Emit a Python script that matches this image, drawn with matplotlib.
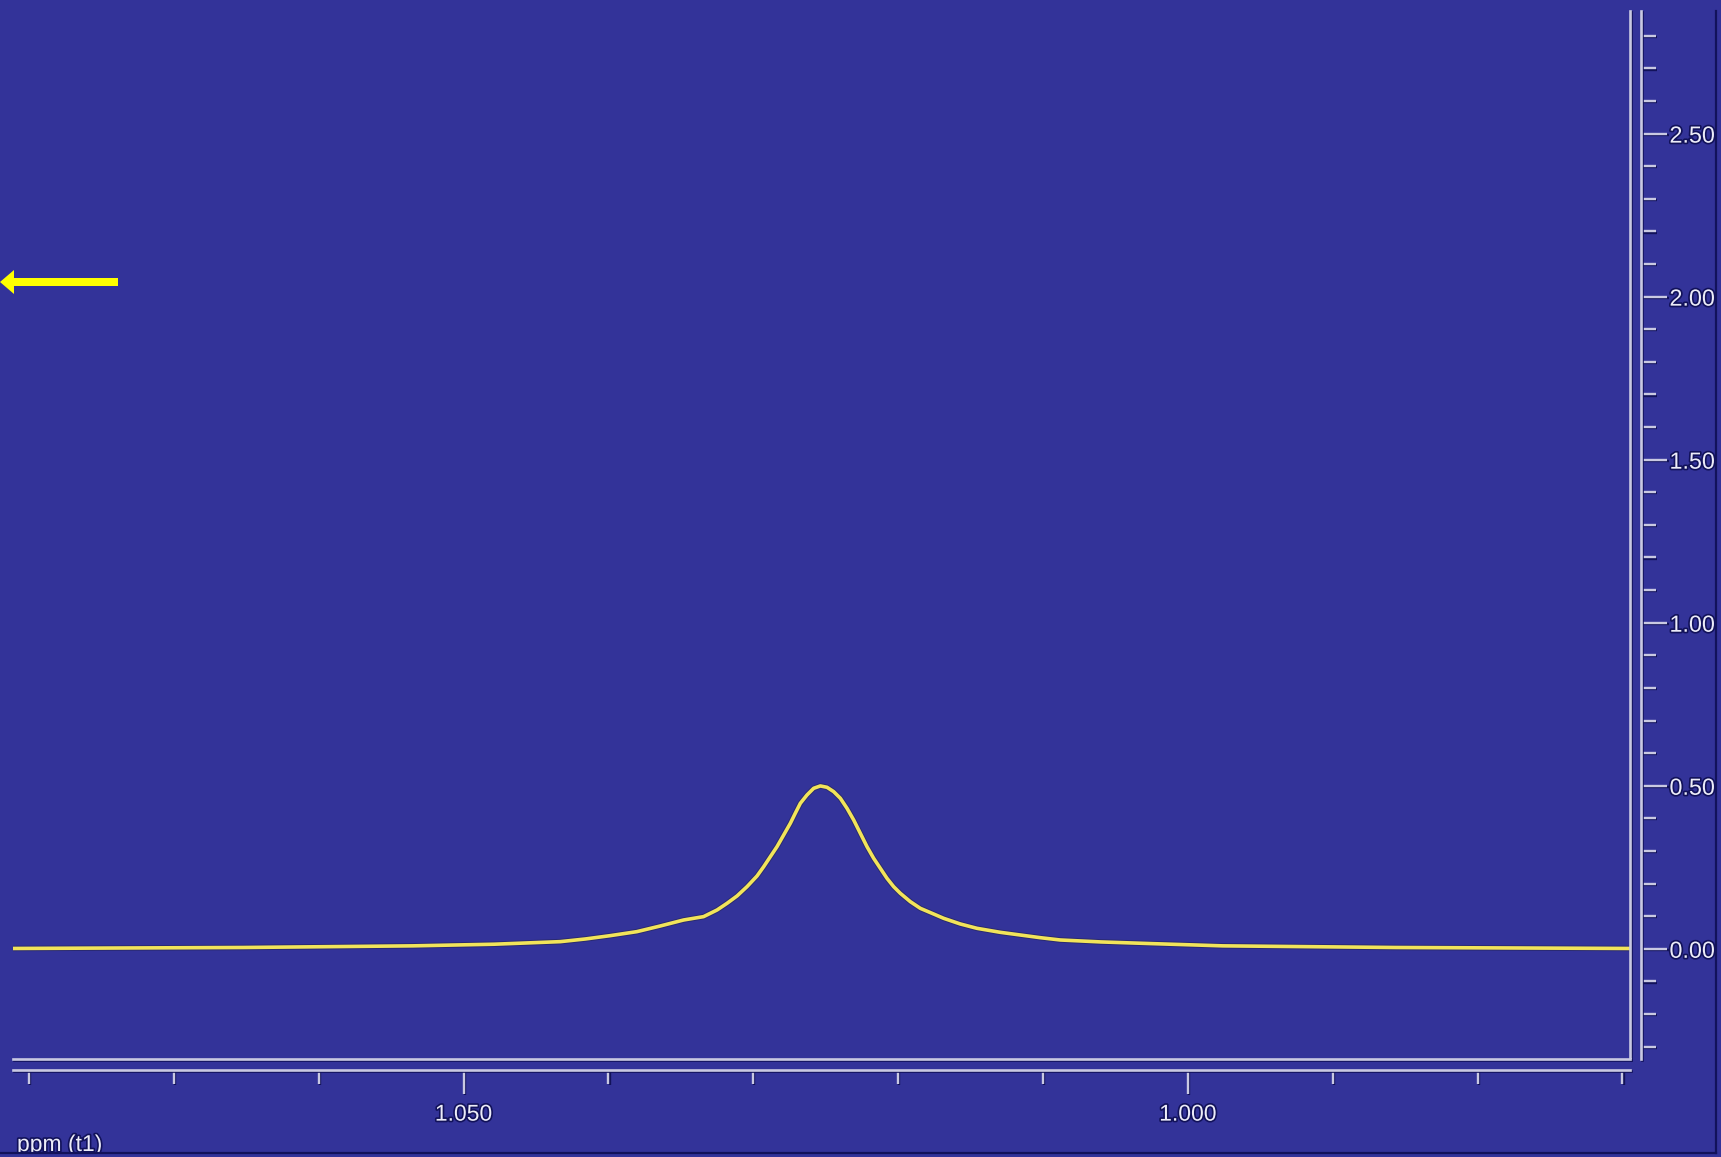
import matplotlib
matplotlib.use("Agg")
import matplotlib.pyplot as plt
import matplotlib.patheffects as pe
from matplotlib.ticker import FixedLocator, MultipleLocator
from matplotlib.lines import Line2D
from matplotlib.patches import Polygon
from matplotlib.transforms import Bbox

plt.rcParams['font.family'] = ['Liberation Sans', 'DejaVu Sans']

# ---- data ----
ppm = [1.0811, 1.0652, 1.0535, 1.0479, 1.04332, 1.04159, 1.03987, 1.03803,
       1.03642, 1.03481, 1.03343, 1.03250, 1.03181, 1.03112, 1.03043, 1.02974,
       1.02928, 1.02882, 1.02836, 1.02790, 1.02744, 1.02710, 1.02675, 1.02629,
       1.02583, 1.02537, 1.02491, 1.02445, 1.02399, 1.02353, 1.02307, 1.02261,
       1.02215, 1.02169, 1.02123, 1.02077, 1.02031, 1.01985, 1.01916, 1.01847,
       1.01755, 1.01686, 1.01571, 1.01456, 1.01295, 1.01157, 1.01019, 1.00881,
       1.0060, 1.0026, 0.9976, 0.9857, 0.9695]
intensity = [0.001, 0.004, 0.009, 0.014, 0.0219, 0.0301, 0.0403, 0.0526,
             0.0699, 0.0883, 0.0986, 0.119, 0.1395, 0.162, 0.1906, 0.2233,
             0.2519, 0.2826, 0.3133, 0.3491, 0.3849, 0.4156, 0.4462, 0.4718,
             0.4922, 0.4994, 0.4953, 0.482, 0.4616, 0.4309, 0.3951, 0.3542,
             0.3133, 0.2775, 0.2468, 0.2162, 0.1906, 0.1702, 0.1446, 0.1241,
             0.1067, 0.0935, 0.0761, 0.0628, 0.0505, 0.0423, 0.0341, 0.027,
             0.021, 0.016, 0.009, 0.004, 0.001]
x_major = [1.050, 1.000]
x_labels = ["1.050", "1.000"]
y_major = [0.0, 0.5, 1.0, 1.5, 2.0, 2.5]
y_labels = ["0.00", "0.50", "1.00", "1.50", "2.00", "2.50"]
x_label = "ppm (t1)"
xlim = (1.0811, 0.96948)
ylim = (-0.338, 2.876)

# ---- style ----
BG = "#333399"
LINE = "#c9c9e2"
SHADOW = "#12125a"
TXT = "#ececf8"
YEL = "#f2e45a"
ARROW = "#ffff00"

W, H = 1721, 1157
fig = plt.figure(figsize=(W / 100, H / 100), dpi=100, facecolor=BG)

def fx(px):
    return px / W

def fy(py):
    return 1 - py / H

line_fx = [pe.SimpleLineShadow(offset=(0.8, -0.8), shadow_color=SHADOW, alpha=1.0), pe.Normal()]
text_fx = [pe.withStroke(linewidth=2.4, foreground=SHADOW)]

# main plotting area
L, R, T, B = 13, 1630, 11, 1059
ax = fig.add_axes([fx(L), fy(B), (R - L) / W, (B - T) / H])
ax.set_facecolor(BG)
ax.set_xlim(*xlim)
ax.set_ylim(*ylim)
ax.plot(ppm, intensity, color=YEL, lw=2.6, solid_joinstyle='round',
        solid_capstyle='round',
        path_effects=[pe.Stroke(linewidth=4.0, foreground="#2a2a70"), pe.Normal()])
for s in ["left", "top"]:
    ax.spines[s].set_visible(False)
for s in ["right", "bottom"]:
    ax.spines[s].set_color(LINE)
    ax.spines[s].set_linewidth(1.9)
    ax.spines[s].set_path_effects(line_fx)
ax.set_xticks([])
ax.set_yticks([])

# right intensity axis
YA = 1641
ay = fig.add_axes([fx(YA - 8), fy(B), 8 / W, (B - T) / H])
ay.patch.set_visible(False)
ay.set_ylim(*ylim)
ay.set_xticks([])
for s in ["left", "top", "bottom"]:
    ay.spines[s].set_visible(False)
ay.spines["right"].set_color(LINE)
ay.spines["right"].set_linewidth(1.9)
ay.spines["right"].set_path_effects(line_fx)
ay.yaxis.tick_right()
ay.yaxis.set_major_locator(FixedLocator(y_major))
ay.set_yticklabels(y_labels)
ay.yaxis.set_minor_locator(MultipleLocator(0.1))
ay.tick_params(axis="y", which="major", direction="out", length=19, width=1.7,
               color=LINE, pad=1.5, labelsize=16.8, labelcolor=TXT)
ay.tick_params(axis="y", which="minor", direction="out", length=10.5, width=1.7,
               color=LINE)

# bottom ppm axis
XA = 1070
axx = fig.add_axes([fx(L), fy(XA), (R - L) / W, 6 / H])
axx.patch.set_visible(False)
axx.set_xlim(*xlim)
axx.set_yticks([])
for s in ["left", "top", "right"]:
    axx.spines[s].set_visible(False)
axx.spines["bottom"].set_color(LINE)
axx.spines["bottom"].set_linewidth(1.9)
axx.spines["bottom"].set_path_effects(line_fx)
axx.xaxis.set_major_locator(FixedLocator(x_major))
axx.set_xticklabels(x_labels)
axx.xaxis.set_minor_locator(MultipleLocator(0.01))
axx.tick_params(axis="x", which="major", direction="out", length=17.5, width=1.7,
                color=LINE, pad=6, labelsize=16.5, labelcolor=TXT)
axx.tick_params(axis="x", which="minor", direction="out", length=9.8, width=1.7,
                color=LINE)

fig.canvas.draw()
for a in (ay, axx):
    for t in a.get_xticklabels() + a.get_yticklabels():
        t.set_path_effects(text_fx)
    for tk in (a.xaxis.get_major_ticks() + a.xaxis.get_minor_ticks() +
               a.yaxis.get_major_ticks() + a.yaxis.get_minor_ticks()):
        tk.tick1line.set_path_effects(line_fx)
        tk.tick2line.set_path_effects(line_fx)

# axis unit label
lbl = fig.text(fx(17), fy(1151), x_label, ha="left", va="baseline", fontsize=16.5,
               color=TXT, path_effects=text_fx, zorder=3)
lbl.set_clip_box(Bbox([[0, H - 1153], [W, H]]))
lbl.set_clip_on(True)

# window border lines (right and bottom)
fig.add_artist(Line2D([fx(1716), fx(1716)], [fy(11), fy(1153)], color=SHADOW,
                      lw=1.6, zorder=6))
fig.add_artist(Line2D([fx(0), fx(1716)], [fy(1153), fy(1153)], color=SHADOW,
                      lw=1.6, zorder=6))

# yellow arrow marker on the left
ay0 = 282
arrow_px = [(0, ay0), (14, ay0 - 12), (14, ay0 - 4), (118, ay0 - 4),
            (118, ay0 + 4), (14, ay0 + 4), (14, ay0 + 12)]
fig.add_artist(Polygon([(fx(px), fy(py)) for px, py in arrow_px], closed=True,
                       facecolor=ARROW, edgecolor="none", transform=fig.transFigure,
                       zorder=7))

fig.savefig("out.png", dpi=100, facecolor=BG)
